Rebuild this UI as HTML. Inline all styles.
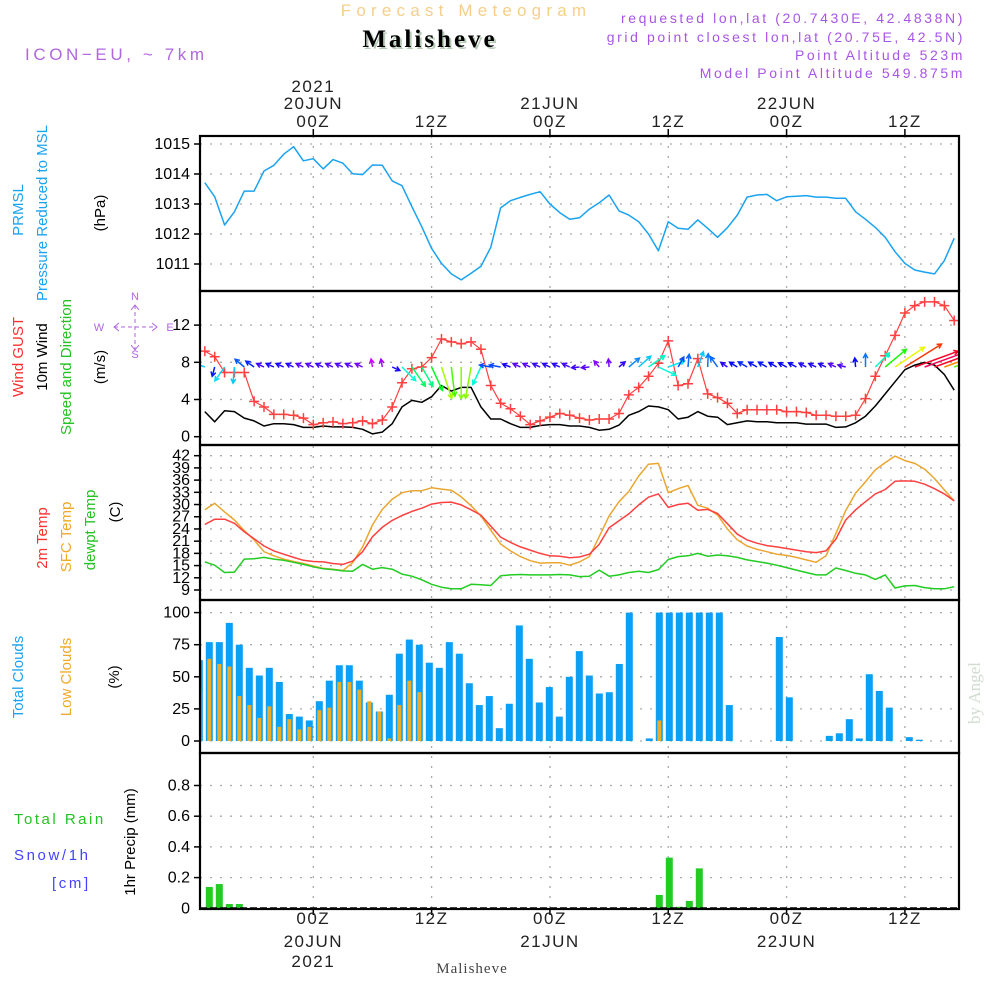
<!DOCTYPE html>
<html><head><meta charset="utf-8"><style>
html,body{margin:0;padding:0;background:#fff;}
svg{display:block;font-family:"Liberation Sans","DejaVu Sans",sans-serif;}
</style></head><body>
<svg id="chart" width="1000" height="1000" viewBox="0 0 1000 1000" xmlns="http://www.w3.org/2000/svg">
<defs><clipPath id="plotclip"><rect x="200" y="136" width="759" height="773"/></clipPath></defs>
<g>
<text x="466" y="16" text-anchor="middle" font-size="17" fill="#f5cf8a" letter-spacing="5.2">Forecast Meteogram</text>
<text x="432" y="49" text-anchor="middle" font-size="25" font-weight="bold" font-family="Liberation Serif,serif" fill="#b8cbb8" letter-spacing="3">Malisheve</text>
<text x="430" y="47" text-anchor="middle" font-size="25" font-weight="bold" font-family="Liberation Serif,serif" fill="#000" letter-spacing="3">Malisheve</text>
<text x="25" y="60" font-size="17" fill="#b266e0" letter-spacing="3.6">ICON−EU, ~ 7km</text>
<g font-size="14" fill="#a855e6" text-anchor="end" letter-spacing="2.6">
<text x="965" y="23">requested lon,lat (20.7430E, 42.4838N)</text>
<text x="965" y="42">grid point closest lon,lat (20.75E, 42.5N)</text>
<text x="965" y="60">Point Altitude 523m</text>
<text x="965" y="78">Model Point Altitude 549.875m</text>
</g>
<text x="980" y="693" font-size="17" font-family="Liberation Serif,serif" fill="#d0dcd0" text-anchor="middle" transform="rotate(-90 980 693)">by Angel</text>
</g>
<g id="axes"></g>
<g id="marks" clip-path="url(#plotclip)"></g>
<g id="frames"></g>
<g font-size="15">
<text transform="translate(23,210) rotate(-90)" text-anchor="middle" fill="#1aa3f0">PRMSL</text>
<text transform="translate(47,213) rotate(-90)" text-anchor="middle" fill="#1aa3f0">Pressure Reduced to MSL</text>
<text transform="translate(105,213) rotate(-90)" text-anchor="middle" fill="#000">(hPa)</text>
<text transform="translate(23,357) rotate(-90)" text-anchor="middle" fill="#ff3030">Wind GUST</text>
<text transform="translate(47,357) rotate(-90)" text-anchor="middle" fill="#000">10m Wind</text>
<text transform="translate(71,367) rotate(-90)" text-anchor="middle" fill="#22c322">Speed and Direction</text>
<text transform="translate(105,367) rotate(-90)" text-anchor="middle" fill="#000">(m/s)</text>
<text transform="translate(47,538) rotate(-90)" text-anchor="middle" fill="#ff3030">2m Temp</text>
<text transform="translate(71,537) rotate(-90)" text-anchor="middle" fill="#f0a828">SFC Temp</text>
<text transform="translate(95,530) rotate(-90)" text-anchor="middle" fill="#22c322">dewpt Temp</text>
<text transform="translate(120,512) rotate(-90)" text-anchor="middle" fill="#000">(C)</text>
<text transform="translate(23,677) rotate(-90)" text-anchor="middle" fill="#1aa3f0">Total Clouds</text>
<text transform="translate(71,677) rotate(-90)" text-anchor="middle" fill="#f0a828">Low Clouds</text>
<text transform="translate(119,677) rotate(-90)" text-anchor="middle" fill="#000">(%)</text>
<text x="14" y="824" fill="#22c322" letter-spacing="2.5">Total  Rain</text>
<text x="14" y="860" fill="#4444ff" letter-spacing="2.6">Snow/1h</text>
<text x="52" y="888" fill="#4444ff" letter-spacing="2.6">[cm]</text>
<text transform="translate(135,842) rotate(-90)" text-anchor="middle" fill="#000">1hr Precip (mm)</text>
</g>
<g fill="#b266e0" font-size="11" text-anchor="middle" stroke-width="1">
<text x="135" y="300">N</text><text x="135" y="358">S</text><text x="99" y="331">W</text><text x="170" y="331">E</text>
<line x1="135" y1="305" x2="135" y2="350" stroke="#b266e0" stroke-dasharray="4,3"/>
<line x1="114" y1="327" x2="157" y2="327" stroke="#b266e0" stroke-dasharray="4,3"/>
<path d="M131,310 L135,305 L139,310 M131,345 L135,350 L139,345 M119,323 L114,327 L119,331 M152,323 L157,327 L152,331" stroke="#b266e0" fill="none"/>
</g>
<text x="472" y="973" text-anchor="middle" font-size="15" font-family="Liberation Serif,serif" fill="#444" letter-spacing="1">Malisheve</text>
</svg>
<script>
// ---- data ----
const hours = [];
for (let h = -11; h <= 65; h++) hours.push(h);
const pressure = [1013.71,1013.24,1012.30,1012.74,1013.43,1013.43,1014.10,1014.29,1014.66,1014.91,1014.44,1014.51,1014.17,1014.48,1014.36,1014.01,1013.98,1014.30,1014.29,1013.77,1013.61,1012.91,1012.24,1011.52,1011.02,1010.67,1010.47,1010.69,1010.92,1011.56,1012.87,1013.11,1013.22,1013.32,1013.41,1013.00,1012.71,1012.49,1012.54,1012.83,1013.04,1013.30,1012.77,1012.63,1012.41,1012.00,1011.44,1012.41,1012.19,1012.16,1012.47,1012.19,1011.89,1012.21,1012.63,1013.23,1013.30,1013.32,1013.11,1013.24,1013.26,1013.28,1013.23,1013.23,1013.19,1013.19,1012.74,1012.49,1012.22,1011.89,1011.41,1011.02,1010.80,1010.73,1010.67,1011.11,1011.86];
const gust = [9.2,8.6,6.9,6.9,6.9,3.8,3.2,2.4,2.4,2.3,2.0,1.3,1.5,1.6,1.4,1.5,1.7,1.4,1.8,3.2,5.8,7.3,7.5,8.5,10.5,10.2,10.0,10.2,9.4,5.5,3.6,3.0,2.2,1.3,1.7,2.1,2.5,2.3,2.0,1.8,1.9,1.9,2.5,4.5,5.3,6.5,7.9,10.3,5.5,5.7,8.4,4.6,4.2,3.6,2.5,2.9,2.9,2.9,2.9,2.7,2.7,2.6,2.3,2.3,2.2,2.2,2.3,4.1,6.5,8.7,10.9,13.3,14.1,14.5,14.5,14.1,12.5];
const wind = [2.7,1.6,2.8,2.7,2.0,1.7,1.15,1.4,1.4,1.3,1.0,1.0,1.15,1.05,1.05,1.0,0.8,0.3,0.5,1.4,3.2,3.9,3.7,4.3,5.5,4.9,5.3,5.3,3.2,1.9,1.9,1.4,1.0,1.0,1.2,1.3,1.3,1.15,1.15,1.0,0.7,0.8,1.25,2.3,2.7,3.3,3.2,2.9,1.9,2.1,2.7,2.2,2.1,1.3,1.5,1.7,1.6,1.6,1.5,1.5,1.5,1.35,1.35,1.35,1.0,1.05,1.5,2.2,3.3,4.6,5.9,7.2,7.7,8.0,7.7,6.7,5.0];
const windDir = [200,105,125,95,220,215,205,205,205,205,205,205,205,205,205,205,205,260,260,25,45,55,60,65,72,83,90,100,115,190,190,200,205,205,205,205,205,205,175,175,230,265,320,320,318,325,25,340,300,275,290,272,235,215,212,210,210,210,210,208,208,208,205,205,205,195,265,270,315,320,326,328,340,340,340,340,340];
const temp2m = [25.1,26.4,26.4,25.4,23.3,21.6,19.8,18.6,17.8,17.0,16.3,16.0,15.9,15.5,15.3,16.1,18.4,22.1,24.4,26.1,27.3,28.3,29.1,30.1,30.5,30.6,29.9,28.7,27.4,24.7,22.0,20.7,19.6,18.8,18.0,17.4,17.3,16.9,17.1,17.8,20.2,24.3,26.0,27.7,29.9,31.8,32.6,29.3,30.0,30.3,28.6,28.8,27.8,25.3,22.7,21.3,20.5,19.9,19.6,19.2,18.8,18.4,18.2,18.6,21.5,26.2,28.7,30.7,32.6,33.7,35.7,35.8,35.7,35.0,33.9,32.6,30.9];
const tempSfc = [28.7,30.3,28.2,26.2,23.6,21.3,18.4,17.4,16.6,16.0,15.5,14.9,14.3,14.1,13.8,15.7,19.6,25.0,28.8,31.3,32.9,33.4,33.4,34.1,33.8,33.5,31.9,29.7,27.2,23.7,20.3,18.6,17.2,16.2,15.6,15.7,15.7,15.1,15.9,17.2,22.1,27.2,30.7,33.2,37.0,39.9,40.1,32.9,33.9,34.7,29.8,29.1,27.4,24.0,21.3,19.8,19.0,18.4,17.8,17.5,17.0,16.4,15.8,17.4,22.9,28.5,32.8,35.6,38.5,40.3,41.9,40.8,40.1,38.7,36.4,33.6,30.9];
const dewpt = [15.9,15.1,13.3,13.4,16.6,16.7,17.0,16.6,16.3,15.8,15.3,14.7,14.2,14.0,13.7,13.6,15.3,14.1,14.5,14.1,12.9,12.4,11.5,10.4,9.7,9.3,9.3,10.4,10.3,10.1,12.5,12.7,12.8,12.7,12.7,12.7,12.8,12.7,12.3,12.4,13.9,12.4,12.7,13.3,13.6,13.3,14.0,16.5,17.2,17.4,18.0,17.3,17.6,17.4,17.0,16.4,16.0,15.6,15.1,14.5,13.9,13.3,12.7,12.7,14.4,13.8,13.1,12.7,11.6,12.7,9.5,10.0,10.1,9.6,9.3,9.3,9.8];
const totalClouds = [63,77,77,92,75,57,51,57,46,21,19,16,31,47,59,59,47,30,23,36,68,79,75,61,57,77,68,45,28,35,10,29,90,64,30,42,19,50,70,51,37,38,60,100,0,2,100,100,100,100,100,100,100,28,0,0,0,0,81,34,0,0,0,4,6,17,2,52,39,26,0,3,1,0,0,0];
const lowClouds = [39,64,60,58,35,28,18,27,11,17,9,11,24,26,46,46,40,31,23,2,28,47,38,0,0,0,0,0,0,0,0,0,0,0,0,0,0,0,0,0,0,0,0,0,0,0,16,0,0,0,0,0,0,0,0,0,0,0,0,0,0,0,0,0,0,0,0,0,0,0,0,0,0,0,0,0];
const precip = [0,0.139,0.158,0.028,0.028,0,0,0,0,0,0,0,0,0,0,0,0,0,0,0,0,0,0,0,0,0,0,0,0,0,0,0,0,0,0,0,0,0,0,0,0,0,0,0,0,0,0.087,0.33,0.01,0.048,0.26,0,0,0,0,0,0,0,0,0,0,0,0,0,0,0,0,0,0,0,0,0,0,0,0,0];
const pTicks = [1011,1012,1013,1014,1015];
const wTicks = [0,4,8,12];
const tTicks = [9,12,15,18,21,24,27,30,33,36,39,42];
const cTicks = [0,25,50,75,100];
const rTicks = [0,0.2,0.4,0.6,0.8];
const timeTicks = [0,12,24,36,48,60];
const tickTop = [["2021","20JUN","00Z"],["","","12Z"],["","21JUN","00Z"],["","","12Z"],["","22JUN","00Z"],["","","12Z"]];
const tickBottom = [["00Z","20JUN","2021"],["12Z","",""],["00Z","21JUN",""],["12Z","",""],["00Z","22JUN",""],["12Z","",""]];

// ---- axes ----
const L = 200, R = 959;
const X = h => 313.3 + 9.86 * h;
const XB = j => 199.3 + 10 * j;
const yP = v => 144 + (1015 - v) * 30;
const yW = v => 436.7 - v * 9.3;
const yT = v => 590 - (v - 9) * 4.07;
const yC = v => 741 - v * 1.284;
const yR = v => 908.3 - v * 153.5;
const panels = [[136,291],[291,445],[445,600],[600,753],[753,909]];

const NS = "http://www.w3.org/2000/svg";
function mk(tag, attrs, parent) {
  const e = document.createElementNS(NS, tag);
  for (const k in attrs) e.setAttribute(k, attrs[k]);
  parent.appendChild(e);
  return e;
}
const axes = document.getElementById('axes');
const marks = document.getElementById('marks');
const frames = document.getElementById('frames');

function hgrid(ticks, yf, fmt, name, fs) {
  ticks.forEach(t => {
    const y = yf(t);
    const g = mk('line', {x1:L, x2:R, y1:y, y2:y, stroke:'#aaa', 'stroke-dasharray':'2,8', 'stroke-width':1.3}, axes);
    
    
    mk('line', {x1:L-6, x2:L, y1:y, y2:y, stroke:'#000', 'stroke-width':1.5}, axes);
    const tx = mk('text', {x:L-10, y:y+5, 'text-anchor':'end', 'font-size':fs||16, fill:'#000'}, axes);
    tx.textContent = fmt ? fmt(t) : t;
    
    
  });
}
hgrid(pTicks, yP, null, 'pressure');
hgrid(wTicks, yW, null, 'wind');
hgrid(tTicks, yT, null, 'temp', 16);
hgrid(cTicks, yC, null, 'clouds');
hgrid(rTicks.slice(1), yR, v => v.toFixed(1), 'precip');
{ const tx = mk('text', {x:L-10, y:yR(0)+5, 'text-anchor':'end', 'font-size':16}, axes); tx.textContent = '0';
    }

timeTicks.forEach((h, k) => {
  const x = X(h);
  const v = mk('line', {x1:x, x2:x, y1:136, y2:908, stroke:'#aaa', 'stroke-dasharray':'2,8', 'stroke-width':1.3}, axes);
  
  
  mk('line', {x1:x, x2:x, y1:129, y2:136, stroke:'#000', 'stroke-width':1.5}, axes);
  mk('line', {x1:x, x2:x, y1:908, y2:915, stroke:'#000', 'stroke-width':1.5}, axes);
  const top = tickTop[k];
  [92,109,127].forEach((yy, r) => { if (top[r]) {
    const t = mk('text', {x:x, y:yy, 'text-anchor':'middle', 'font-size':17, fill:'#222', 'letter-spacing':1.5}, axes);
    t.textContent = top[r];
    
     }});
  const bot = tickBottom[k];
  [924,947,967].forEach((yy, r) => { if (bot[r]) {
    const t = mk('text', {x:x, y:yy, 'text-anchor':'middle', 'font-size':17, fill:'#222', 'letter-spacing':1.5}, axes);
    t.textContent = bot[r];
    
     }});
});

panels.forEach((p, k) => {
  const r = mk('rect', {x:L, y:p[0], width:R-L, height:p[1]-p[0], fill:'none', stroke:'#000', 'stroke-width':2.2}, frames);
  
  
});
const zl = mk('line', {x1:L, x2:R, y1:yR(0), y2:yR(0), stroke:'#000', 'stroke-width':2, 'stroke-dasharray':'7,3'}, frames);



// ---- marks ----
function line(vals, yf, color, name, w) {
  const d = vals.map((v, i) => (i ? 'L' : 'M') + X(hours[i]).toFixed(1) + ',' + yf(v).toFixed(1)).join(' ');
  const p = mk('path', {d:d, fill:'none', stroke:color, 'stroke-width':w||1.5, 'stroke-linejoin':'round'}, marks);
  
  
}

totalClouds.forEach((v, j) => {
  if (v <= 0) return;
  const b = mk('rect', {x:XB(j)-3.5, y:yC(v), width:7, height:yC(0)-yC(v), fill:'#0aa0f5'}, marks);
  
  
});
lowClouds.forEach((v, j) => {
  if (v <= 0) return;
  const b = mk('rect', {x:XB(j)-2, y:yC(v), width:4, height:yC(0)-yC(v), fill:'#e8ad2a'}, marks);
  
  
});
precip.forEach((v, j) => {
  if (v <= 0) return;
  const b = mk('rect', {x:XB(j)-3.5, y:yR(v), width:7, height:yR(0)-yR(v), fill:'#22cc22'}, marks);
  
  
});

line(pressure, yP, '#1aa3f0', 'pressure-line');
line(tempSfc, yT, '#eaa630', 'sfc-temp-line');
line(temp2m, yT, '#ff4040', 't2m-line');
line(dewpt, yT, '#22cc22', 'dewpt-line');
line(wind, yW, '#000', 'wind-speed-line');
line(gust, yW, '#ff4040', 'gust-line', 1.2);
gust.forEach((v, i) => {
  const x = X(hours[i]), y = yW(v);
  const c = mk('path', {d:`M${x-5},${y} L${x+5},${y} M${x},${y-5} L${x},${y+5}`, stroke:'#ff4040', 'stroke-width':1.5}, marks);
  
  
});
wind.forEach((w, i) => {
  const x0 = X(hours[i]), y0 = 367;
  const a = windDir[i] * Math.PI / 180;
  const len = Math.max(8, 6 * w);
  const x1 = x0 + Math.cos(a) * len, y1 = y0 + Math.sin(a) * len;
  const hue = ((300 - 40 * w) % 360 + 360) % 360;
  const col = `hsl(${hue},95%,50%)`;
  const hl = 5, ha = 0.5;
  const bx1 = x1 - Math.cos(a - ha) * hl, by1 = y1 - Math.sin(a - ha) * hl;
  const bx2 = x1 - Math.cos(a + ha) * hl, by2 = y1 - Math.sin(a + ha) * hl;
  const p = mk('path', {d:`M${x0.toFixed(1)},${y0} L${x1.toFixed(1)},${y1.toFixed(1)} M${bx1.toFixed(1)},${by1.toFixed(1)} L${x1.toFixed(1)},${y1.toFixed(1)} L${bx2.toFixed(1)},${by2.toFixed(1)}`, stroke:col, 'stroke-width':1.5, fill:'none'}, marks);
  
  
});
</script>
</body></html>
